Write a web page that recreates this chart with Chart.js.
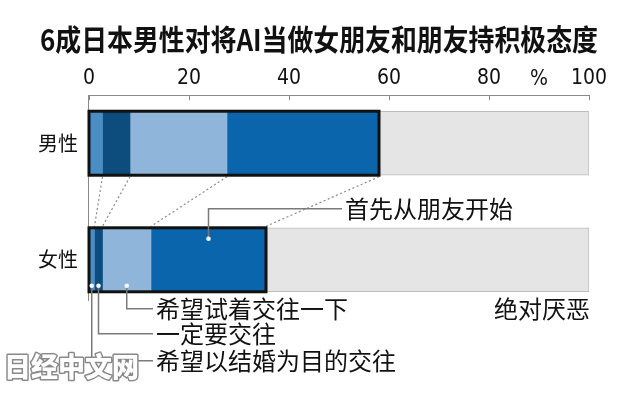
<!DOCTYPE html>
<html>
<head>
<meta charset="utf-8">
<script src="https://cdn.jsdelivr.net/npm/chart.js@4/dist/chart.umd.min.js"></script>
<style>
html,body{margin:0;padding:0;background:#fff;}
#wrap{width:636px;height:409px;position:relative;}
</style>
</head>
<body>
<div id="wrap"><canvas id="c" width="636" height="409"></canvas></div>
<script>
const titleText = '6成日本男性对将AI当做女朋友和朋友持积极态度';
const categories = ['男性', '女性'];
const seriesNames = ['希望以结婚为目的交往', '一定要交往', '希望试着交往一下', '首先从朋友开始', '绝对厌恶'];
const marriage = [2.7, 1.1];
const mustDate = [5.5, 1.6];
const tryDating = [19.4, 9.7];
const friendsFirst = [30.4, 23.0];
const refuse = [42.0, 64.6];
const tickValues = [0, 20, 40, 60, 80, 100];
const tickLabels = ['0', '20', '40', '60', '80', '100'];
const unitLabel = '%';
const watermark = '日经中文网';

const colors = ['#4a8cc4', '#0c4d7e', '#8fb6da', '#0a65ad', '#e5e5e5'];
const seriesData = [marriage, mustDate, tryDating, friendsFirst, refuse];

const CJK = '"Noto Sans CJK SC", "Noto Sans", sans-serif';
const NUM = '"Liberation Sans Narrow", "DejaVu Sans Condensed", "Liberation Sans", sans-serif';
const BAR = 64;

const annot = {
  id: 'annot',
  beforeDraw(chart) {
    const ctx = chart.ctx;
    ctx.save();
    ctx.font = 'bold 29px ' + CJK;
    ctx.fillStyle = '#111';
    ctx.textBaseline = 'middle';
    ctx.textAlign = 'left';
    const w = ctx.measureText(titleText).width;
    const target = 558;
    ctx.translate(40, 40);
    ctx.scale(target / w, 1);
    ctx.fillText(titleText, 0, 0);
    ctx.restore();
  },
  afterDatasetsDraw(chart) {
    const ctx = chart.ctx;
    const x = chart.scales.x, y = chart.scales.y;
    const ca = chart.chartArea;
    const half = BAR / 2;
    ctx.save();
    ctx.strokeStyle = '#888'; ctx.lineWidth = 1;
    tickValues.forEach(v => {
      const px = Math.round(x.getPixelForValue(v)) + 0.5;
      ctx.beginPath(); ctx.moveTo(px, ca.top); ctx.lineTo(px, ca.top + 5); ctx.stroke();
    });
    ctx.fillStyle = '#111';
    ctx.font = '21px ' + NUM;
    ctx.textAlign = 'center'; ctx.textBaseline = 'middle';
    ctx.fillText(unitLabel, x.getPixelForValue(90), ca.top - 16);

    const positive = seriesData.slice(0, 4);
    const cum = categories.map((c, i) => { let s = 0; return positive.map(a => (s += a[i])); });

    const mb = y.getPixelForValue(0) + half + 1.5;
    const ft = y.getPixelForValue(1) - half - 1.5;
    ctx.strokeStyle = '#8a8a8a'; ctx.lineWidth = 1.2; ctx.setLineDash([2, 2.5]);
    for (let k = 0; k < 4; k++) {
      ctx.beginPath();
      ctx.moveTo(x.getPixelForValue(cum[0][k]), mb);
      ctx.lineTo(x.getPixelForValue(cum[1][k]), ft);
      ctx.stroke();
    }
    ctx.setLineDash([]);

    categories.forEach((c, i) => {
      const yc = y.getPixelForValue(i);
      const x0 = x.getPixelForValue(0), x1 = x.getPixelForValue(cum[i][3]);
      ctx.lineWidth = 3; ctx.strokeStyle = '#111';
      ctx.strokeRect(x0, yc - half, x1 - x0, BAR);
    });

    const yf = y.getPixelForValue(1);
    const segCenter = k => x.getPixelForValue(cum[1][k] - seriesData[k][1] / 2);
    ctx.strokeStyle = '#7a7a7a'; ctx.lineWidth = 1.5;
    const dot = (px, py) => {
      ctx.beginPath(); ctx.arc(px, py, 2.3, 0, Math.PI * 2);
      ctx.fillStyle = '#f4f8fc'; ctx.fill();
    };
    ctx.font = '24px ' + CJK;
    ctx.textAlign = 'left'; ctx.textBaseline = 'middle';
    {
      const ax = segCenter(3), ay = yf - 21, ly = yf - 51;
      ctx.beginPath(); ctx.moveTo(ax, ay); ctx.lineTo(ax, ly); ctx.lineTo(342, ly); ctx.stroke();
      dot(ax, ay);
      ctx.fillStyle = '#111'; ctx.fillText(seriesNames[3], 345, ly);
    }
    const downs = [[2, 49], [1, 74], [0, 101]];
    downs.forEach(([k, off]) => {
      const ax = segCenter(k), ay = yf + 26, ly = yf + off;
      ctx.strokeStyle = '#7a7a7a';
      ctx.beginPath(); ctx.moveTo(ax, ay); ctx.lineTo(ax, ly); ctx.lineTo(153, ly); ctx.stroke();
      dot(ax, ay);
      ctx.fillStyle = '#111'; ctx.fillText(seriesNames[k], 156, ly);
    });
    ctx.textAlign = 'right';
    ctx.fillText(seriesNames[4], x.getPixelForValue(100) + 1, yf + 49);

    ctx.font = '900 27px ' + CJK;
    ctx.textAlign = 'left';
    ctx.lineJoin = 'round';
    ctx.strokeStyle = '#8a8a8a'; ctx.lineWidth = 3;
    ctx.strokeText(watermark, 4, 367);
    ctx.fillStyle = '#ffffff';
    ctx.fillText(watermark, 4, 367);
    ctx.restore();
  }
};

const datasets = seriesNames.map((name, k) => ({
  label: name,
  data: categories.map((c, i) => ({ x: seriesData[k][i], y: i })),
  backgroundColor: colors[k],
  borderColor: k === 4 ? '#bdbdbd' : colors[k],
  borderWidth: k === 4 ? 1 : 0,
  borderSkipped: false,
  barThickness: BAR
}));

new Chart(document.getElementById('c'), {
  type: 'bar',
  data: { datasets },
  plugins: [annot],
  options: {
    indexAxis: 'y',
    responsive: false,
    animation: false,
    layout: { padding: { top: 62, left: 27, right: 47, bottom: 109 } },
    plugins: {
      legend: { display: false },
      tooltip: { enabled: false },
      title: { display: false }
    },
    scales: {
      x: {
        type: 'linear',
        position: 'top',
        stacked: true,
        min: 0, max: 100,
        afterBuildTicks: s => { s.ticks = tickValues.map(v => ({ value: v })); },
        ticks: {
          color: '#111',
          font: { family: NUM, size: 21 },
          padding: 4,
          maxRotation: 0,
          callback: (v) => tickLabels[tickValues.indexOf(v)]
        },
        grid: { display: false, drawTicks: false },
        border: { display: true, color: '#8a8a8a', width: 1 }
      },
      y: {
        type: 'linear',
        stacked: true,
        reverse: true,
        offset: false,
        min: -0.412, max: 1.345,
        afterBuildTicks: s => { s.ticks = categories.map((c, i) => ({ value: i })); },
        ticks: {
          color: '#111',
          font: { family: CJK, size: 20 },
          padding: 11,
          callback: (v) => categories[v]
        },
        grid: { display: false, drawTicks: false, offset: false },
        border: { display: true, color: '#8a8a8a', width: 1 }
      }
    }
  }
});
</script>
</body>
</html>
